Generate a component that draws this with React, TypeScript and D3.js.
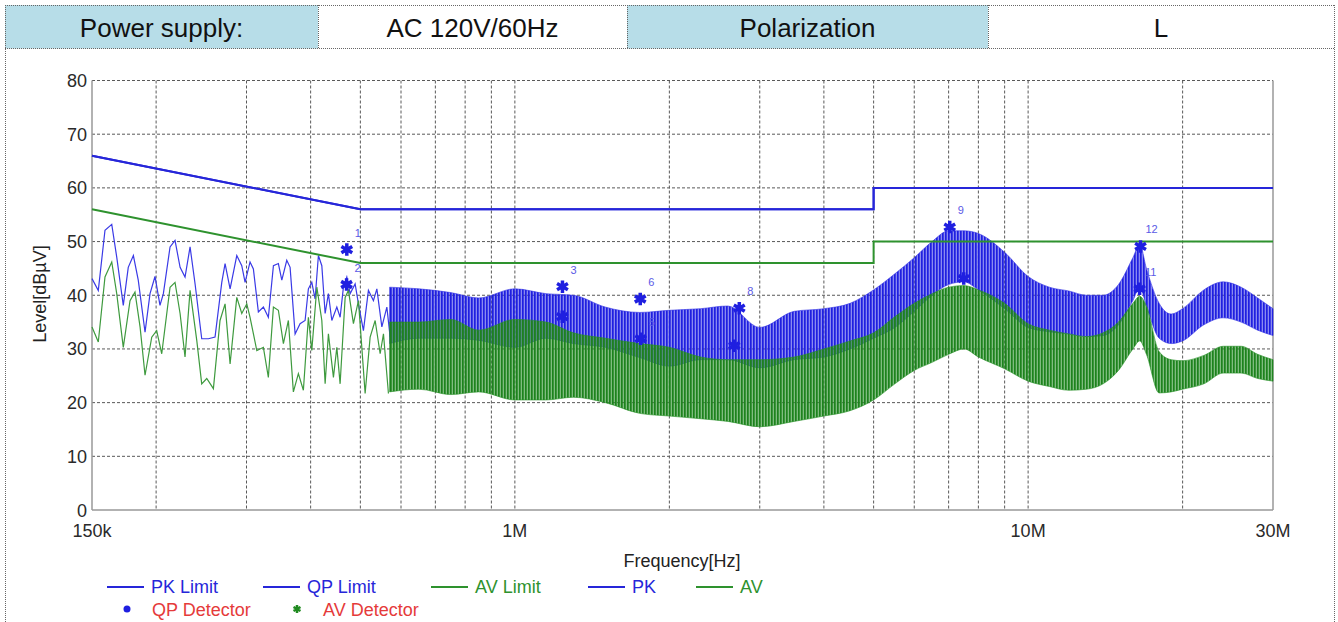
import * as d3 from "d3"

// header table of the report
const headerCells = [
  {label: "Power supply:", x0: 5, x1: 318, fill: "#b7dde8"},
  {label: "AC 120V/60Hz", x0: 318, x1: 627, fill: "#ffffff"},
  {label: "Polarization", x0: 627, x1: 988, fill: "#b7dde8"},
  {label: "L", x0: 988, x1: 1334, fill: "#ffffff"},
]

const yTicks = [0, 10, 20, 30, 40, 50, 60, 70, 80]
const xTickLabels: [number, string][] = [
  [0.15, "150k"],
  [1, "1M"],
  [10, "10M"],
  [30, "30M"],
]
const xGrid = [0.2, 0.3, 0.4, 0.5, 0.6, 0.7, 0.8, 0.9, 1, 2, 3, 4, 5, 6, 7, 8, 9, 10, 20]

// limits [MHz, dBuV]
const qpLimit = [[0.15, 66], [0.5, 56], [5, 56], [5, 60], [30, 60]]
const pkLimit = qpLimit
const avLimit = [[0.15, 56], [0.5, 46], [5, 46], [5, 50], [30, 50]]

// PK trace below ~570 kHz [kHz, dBuV]
const pkLow = [
  [150, 43.1], [154.3, 40.9], [159, 52.1], [163.9, 53.2], [167.6, 47.1], [172.6, 38.1],
  [176.5, 45.2], [180.6, 47.4], [184.6, 42.8], [190.3, 33.1], [194.6, 40.3], [199, 43.5],
  [203.5, 38.1], [206.6, 40.3], [212.9, 49.0], [217.7, 50.2], [222.7, 45.2], [227.7, 43.4],
  [232.9, 49.0], [238.2, 42.1], [245.4, 31.9], [252.8, 31.9], [260.5, 32.2], [268.5, 42.4],
  [272.5, 45.9], [278.7, 41.2], [287.2, 47.4], [293.7, 45.5], [298.1, 42.4], [304.8, 46.2],
  [309.4, 44.9], [316.4, 36.9], [323.6, 37.8], [330.9, 35.9], [338.5, 45.5], [346.1, 45.9],
  [351.5, 42.8], [359.4, 46.5], [364.8, 45.2], [373.1, 32.8], [381.5, 34.7], [390.2, 35.3],
  [396, 41.2], [402.1, 42.4], [408.1, 39.3], [414.2, 47.4], [420.6, 45.5], [426.9, 36.6],
  [433.2, 40.3], [439.9, 35.3], [449.9, 37.8], [456.6, 35.9], [463.4, 41.5], [470.5, 43.4],
  [477.6, 40.3], [488.4, 42.1], [495.7, 38.4], [506.9, 33.4], [518.4, 40.9], [530.2, 39.0],
  [538.4, 41.2], [550.6, 34.1], [563.1, 37.8], [571.5, 32.2],
]

// AV trace below ~570 kHz [kHz, dBuV]
const avLow = [
  [150, 34.1], [154.3, 31.3], [159, 43.4], [163.9, 46.2], [167.6, 40.3], [172.6, 30.3],
  [177.9, 39.0], [181.9, 40.6], [186.1, 34.1], [190.3, 25.1], [196.1, 32.2], [200.5, 33.4],
  [205.1, 29.1], [212.9, 41.5], [217.7, 42.4], [222.7, 36.6], [227.7, 28.5], [232.9, 40.9],
  [240, 31.6], [245.4, 23.5], [251, 24.5], [258.6, 22.6], [266.4, 35.3], [272.5, 38.4],
  [278.7, 27.2], [287.2, 39.6], [293.7, 36.6], [300.4, 38.4], [304.8, 35.9], [314.2, 29.7],
  [323.6, 30.3], [330.9, 24.7], [338.5, 37.8], [346.1, 37.2], [354, 31.0], [362, 35.3],
  [370.2, 22.0], [378.6, 25.4], [387.2, 22.3], [396, 35.9], [402.1, 29.7], [411.3, 41.5],
  [420.6, 35.3], [426.9, 23.5], [433.2, 32.8], [443.1, 24.7], [449.9, 30.3], [456.6, 23.5],
  [467, 39.6], [473.9, 40.9], [484.7, 34.7], [495.7, 39.0], [510.8, 21.7], [522.4, 32.2],
  [534.3, 35.3], [546.4, 29.1], [554.6, 32.8], [567.1, 21.7],
]

// above 570 kHz the sweep is too dense to read point by point: min / max envelope
const bandFreqs = [
  0.57, 0.65, 0.75, 0.85, 1.0, 1.15, 1.3, 1.5, 1.75, 2.0, 2.3, 2.6, 3.0, 3.5, 4.0, 4.5, 5.0,
  5.5, 6.0, 6.5, 7.0, 7.5, 8.0, 9.0, 10, 11, 12, 13, 14, 15, 16, 16.5, 17, 18, 19, 20, 22, 24,
  26, 28, 30,
]
const pkHi = [
  41.5, 41.2, 40.5, 39.5, 41.2, 40.3, 40.0, 37.8, 36.8, 37.2, 37.5, 38.0, 34.0, 37.0, 37.5,
  38.5, 41.0, 44.0, 47.0, 50.0, 52.0, 52.0, 51.5, 48.0, 43.5, 41.5, 40.8, 40.0, 40.0, 42.0,
  47.0, 49.5, 45.0, 38.5, 36.5, 37.5, 41.0, 42.5, 41.5, 39.5, 37.5,
]
const pkLo = [
  31.0, 32.0, 32.0, 31.6, 30.3, 32.0, 31.0, 30.3, 28.4, 26.8, 28.0, 28.0, 26.5, 28.0, 28.5,
  30.0, 32.0, 34.0, 37.0, 40.0, 42.0, 42.5, 41.0, 37.5, 34.0, 33.2, 32.8, 32.3, 32.5, 34.5,
  39.0, 41.5, 38.0, 32.0, 31.0, 31.5, 34.5, 35.8, 35.0, 33.5, 32.5,
]
const avHi = [
  35.0, 35.0, 35.5, 33.5, 35.5, 35.0, 33.0, 32.0, 31.0, 30.3, 28.5, 28.0, 28.0, 28.5, 30.0,
  31.5, 33.0, 36.0, 38.5, 40.3, 41.5, 41.8, 41.0, 38.5, 34.7, 33.5, 32.8, 32.3, 33.0, 35.0,
  38.5, 39.8, 38.0, 29.5, 28.0, 27.8, 28.8, 30.5, 30.5, 29.0, 28.0,
]
const avLo = [
  22.0, 22.5, 21.5, 22.0, 20.5, 20.5, 21.0, 20.0, 18.0, 17.5, 17.0, 16.5, 15.5, 16.5, 17.5,
  18.5, 20.5, 23.5, 26.0, 27.5, 29.0, 30.0, 28.5, 26.3, 24.0, 23.0, 22.3, 22.5, 23.5, 26.0,
  30.0, 31.5, 29.0, 21.8, 22.0, 22.5, 23.5, 25.5, 25.5, 24.5, 24.0,
]

// final measurement markers [MHz, dBuV]; some numbers are hidden under the sweep
const markers = [
  {n: 1, f: 0.4705, level: 48.5, shown: true},
  {n: 2, f: 0.470, level: 42.0, shown: true},
  {n: 3, f: 1.238, level: 41.6, shown: true},
  {n: 4, f: 1.237, level: 36.0, shown: false},
  {n: 5, f: 1.759, level: 31.9, shown: true},
  {n: 6, f: 1.755, level: 39.3, shown: true},
  {n: 7, f: 2.676, level: 30.6, shown: false},
  {n: 8, f: 2.737, level: 37.6, shown: true},
  {n: 9, f: 7.035, level: 52.7, shown: true},
  {n: 10, f: 7.491, level: 43.1, shown: false},
  {n: 11, f: 16.49, level: 41.2, shown: true},
  {n: 12, f: 16.56, level: 49.1, shown: true},
]

const legendRow1 = [
  {label: "PK Limit", color: "#2626d9", x: 107},
  {label: "QP Limit", color: "#2626d9", x: 263},
  {label: "AV Limit", color: "#2e922e", x: 431},
  {label: "PK", color: "#2626d9", x: 588},
  {label: "AV", color: "#2e922e", x: 696},
]

const BLUE = "#2626d9"
const GREEN = "#2e922e"
const FONT = "'Liberation Sans', Arial, sans-serif"

export default function App() {
  const x = d3.scaleLog().domain([0.15, 30]).range([92, 1273])
  const y = d3.scaleLinear().domain([0, 80]).range([510, 80.5])

  const line = d3
    .line<number[]>()
    .x((d) => x(d[0]))
    .y((d) => y(d[1]))

  const band = (hi: number[], lo: number[]) =>
    d3
      .area<number>()
      .x((f) => x(f))
      .y0((_, i) => y(lo[i]))
      .y1((_, i) => y(hi[i]))
      .curve(d3.curveMonotoneX)(bandFreqs)

  const pkPath = line(pkLow.map(([k, v]) => [k / 1000, v]))
  const avPath = line(avLow.map(([k, v]) => [k / 1000, v]))
  const star = d3.symbol(d3.symbolAsterisk, 110)()
  const legendStar = d3.symbol(d3.symbolAsterisk, 45)()

  const [x0, x1] = x.range()
  const [yb, yt] = y.range()

  return (
    <svg
      width={W}
      height={H}
      style={{position: "absolute", left: 0, top: 0, background: "#fff"}}
      fontFamily={FONT}
    >
      <defs>
        {/* dense sweep texture: thin vertical strokes */}
        <pattern id="pkTex" width={3} height={8} patternUnits="userSpaceOnUse">
          <rect width={3} height={8} fill="#2a2ae4" opacity={0.55} />
          <rect width={1.7} height={8} fill="#1f1fe0" />
        </pattern>
        <pattern id="avTex" width={3} height={8} patternUnits="userSpaceOnUse">
          <rect width={3} height={8} fill="#2a902a" opacity={0.6} />
          <rect width={1.7} height={8} fill="#1d821d" />
        </pattern>
      </defs>

      {/* header table */}
      {headerCells.map((c) => (
        <g key={c.label}>
          <rect x={c.x0} y={5} width={c.x1 - c.x0} height={43.5} fill={c.fill} />
          <text
            x={(c.x0 + c.x1) / 2}
            y={37}
            textAnchor="middle"
            fontSize={26}
            fill="#111"
          >
            {c.label}
          </text>
        </g>
      ))}
      <g stroke="#666" strokeDasharray="1,1" fill="none">
        <line x1={5} x2={1334} y1={5.5} y2={5.5} />
        <line x1={5} x2={1334} y1={48.5} y2={48.5} />
        <line x1={5.5} x2={5.5} y1={5} y2={622} />
        <line x1={1334.5} x2={1334.5} y1={5} y2={622} />
        {headerCells.slice(1).map((c) => (
          <line key={c.label} x1={c.x0 + 0.5} x2={c.x0 + 0.5} y1={5} y2={48} />
        ))}
      </g>

      {/* grid */}
      <g stroke="#222" strokeDasharray="3,2" strokeWidth={1} opacity={0.75}>
        {yTicks.slice(1).map((t) => (
          <line key={t} x1={x0} x2={x1} y1={y(t)} y2={y(t)} />
        ))}
        {xGrid.map((f) => (
          <line key={f} x1={x(f)} x2={x(f)} y1={yt} y2={yb} />
        ))}
      </g>
      <g stroke="#999" strokeWidth={1.5}>
        <line x1={x0} x2={x0} y1={yt} y2={yb} />
        <line x1={x0} x2={x1} y1={yb} y2={yb} />
        <line x1={x1} x2={x1} y1={yt} y2={yb} />
      </g>

      {/* axis labels */}
      <g fontSize={18} fill="#2a2a2a">
        {yTicks.map((t) => (
          <text key={t} x={x0 - 5} y={y(t) + 6.5} textAnchor="end">
            {t}
          </text>
        ))}
        {xTickLabels.map(([f, l]) => (
          <text key={l} x={x(f)} y={537} textAnchor="middle">
            {l}
          </text>
        ))}
      </g>
      <text x={682} y={567} textAnchor="middle" fontSize={18} fill="#222">
        Frequency[Hz]
      </text>
      <text
        transform="translate(46,294) rotate(-90)"
        textAnchor="middle"
        fontSize={18}
        fill="#222"
      >
        Level[dBµV]
      </text>

      {/* traces */}
      <path d={pkPath ?? ""} fill="none" stroke="#3a3ae6" strokeWidth={1.2} />
      <path d={band(pkHi, pkLo) ?? ""} fill="url(#pkTex)" stroke="#3030e4" strokeWidth={1} strokeOpacity={0.6} />
      <path d={avPath ?? ""} fill="none" stroke="#3e9a3e" strokeWidth={1.2} />
      <path d={band(avHi, avLo) ?? ""} fill="url(#avTex)" stroke="#249024" strokeWidth={1} strokeOpacity={0.6} />

      {/* limits */}
      <path d={line(pkLimit) ?? ""} fill="none" stroke={BLUE} strokeWidth={2} />
      <path d={line(qpLimit) ?? ""} fill="none" stroke={BLUE} strokeWidth={2} />
      <path d={line(avLimit) ?? ""} fill="none" stroke={GREEN} strokeWidth={2} />

      {/* marker numbers */}
      <g fontSize={11} fill="#5a5ae6">
        {markers
          .filter((m) => m.shown)
          .map((m) => (
            <text key={m.n} x={x(m.f) + 11} y={y(m.level) - 13} textAnchor="middle">
              {m.n}
            </text>
          ))}
      </g>

      {/* markers */}
      {markers.map((m) => (
        <path
          key={m.n}
          d={star ?? ""}
          transform={`translate(${x(m.f)},${y(m.level)})`}
          fill="none"
          stroke="#1f1fe0"
          strokeWidth={3.5}
        />
      ))}

      {/* legend */}
      <g fontSize={18}>
        {legendRow1.map((l) => (
          <g key={l.label}>
            <line x1={l.x} x2={l.x + 37} y1={587} y2={587} stroke={l.color} strokeWidth={2} />
            <text x={l.x + 44} y={593} fill={l.color}>
              {l.label}
            </text>
          </g>
        ))}
        <circle cx={127} cy={609} r={3.5} fill="#1f1fe0" />
        <text x={152} y={615.5} fill="#e53a3a">
          QP Detector
        </text>
        <path
          d={legendStar ?? ""}
          transform="translate(297,609)"
          fill="none"
          stroke="#1f8a1f"
          strokeWidth={2.5}
        />
        <text x={323} y={615.5} fill="#e53a3a">
          AV Detector
        </text>
      </g>
    </svg>
  )
}

const W = 1338
const H = 622
